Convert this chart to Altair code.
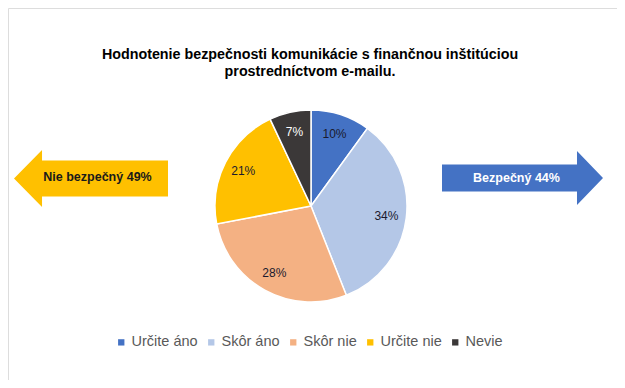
import altair as alt
import pandas as pd

categories = ["Určite áno", "Skôr áno", "Skôr nie", "Určite nie", "Nevie"]
values = [10, 34, 28, 21, 7]
labels = ["10%", "34%", "28%", "21%", "7%"]
colors = ["#4472C4", "#B4C7E7", "#F4B183", "#FFC000", "#3B3838"]
label_colors = ["#1a1a2e", "#1a1a2e", "#1a1a2e", "#1a1a2e", "#FFFFFF"]
title_lines = ["Hodnotenie bezpečnosti komunikácie s finančnou inštitúciou",
               "prostredníctvom e-mailu."]
arrow_texts = ["Nie bezpečný 49%", "Bezpečný 44%"]

FONT = "Liberation Sans"
W, H = 609, 372
CX, CY, R = 303, 198, 96

df = pd.DataFrame({"cat": categories, "val": values, "lab": labels,
                   "tc": label_colors, "ord": list(range(len(categories)))})

pie = alt.Chart(df).mark_arc(outerRadius=R, stroke="white", strokeWidth=1.5).encode(
    theta=alt.Theta("val:Q", stack=True),
    order=alt.Order("ord:Q"),
    color=alt.Color("cat:N", sort=categories,
                    scale=alt.Scale(domain=categories, range=colors),
                    legend=alt.Legend(title=None, orient="none", legendX=106, legendY=327,
                                      direction="horizontal", columns=5,
                                      symbolType="square", symbolSize=40,
                                      symbolStrokeWidth=0, labelFontSize=14.5,
                                      labelColor="#595959", labelFont=FONT,
                                      columnPadding=6, labelOffset=3, padding=0)),
    x=alt.value(CX), y=alt.value(CY),
)

pie_text = alt.Chart(df).mark_text(radius=76, font=FONT, fontSize=12).encode(
    theta=alt.Theta("val:Q", stack=True),
    order=alt.Order("ord:Q"),
    detail="cat:N",
    text="lab:N",
    fill=alt.Fill("tc:N", scale=None, legend=None),
    x=alt.value(CX), y=alt.value(CY),
)

title = alt.Chart(pd.DataFrame({"t": [0]})).mark_text(
    font=FONT, fontSize=14.3, fontWeight="bold", color="#000000",
    baseline="top", align="center", lineHeight=17).encode(
    text=alt.value(title_lines), x=alt.value(302), y=alt.value(40))

left_path = ("M -1 0 L -0.636 -0.37 L -0.636 -0.234 L 1 -0.234 L 1 0.234 "
             "L -0.636 0.234 L -0.636 0.37 Z")
right_path = ("M 1 0 L 0.677 -0.335 L 0.677 -0.168 L -1 -0.168 L -1 0.168 "
              "L 0.677 0.168 L 0.677 0.335 Z")

arrow_df = pd.DataFrame({"t": arrow_texts})

left_arrow = alt.Chart(arrow_df).transform_filter(alt.datum.t == arrow_texts[0]).mark_point(
    shape=left_path, filled=True, fill="#FFC000", opacity=1, strokeWidth=0, size=154 * 154
).encode(x=alt.value(83), y=alt.value(170.5))

right_arrow = alt.Chart(arrow_df).transform_filter(alt.datum.t == arrow_texts[1]).mark_point(
    shape=right_path, filled=True, fill="#4472C4", opacity=1, strokeWidth=0, size=161 * 161
).encode(x=alt.value(514.5), y=alt.value(170))

left_text = alt.Chart(arrow_df).transform_filter(alt.datum.t == arrow_texts[0]).mark_text(
    font=FONT, fontSize=12.5, fontWeight="bold", color="#1a1a1a", baseline="middle"
).encode(text="t:N", x=alt.value(89.5), y=alt.value(169))

right_text = alt.Chart(arrow_df).transform_filter(alt.datum.t == arrow_texts[1]).mark_text(
    font=FONT, fontSize=12.5, fontWeight="bold", color="#FFFFFF", baseline="middle"
).encode(text="t:N", x=alt.value(508.5), y=alt.value(170))

chart = alt.layer(pie, pie_text, title, left_arrow, right_arrow, left_text, right_text).properties(
    width=W, height=H, autosize=alt.AutoSizeParams(type="none"), padding=0
).configure_view(stroke=None).configure(background="white")

chart.save("out.html", embed_options={"renderer": "svg", "actions": False})
